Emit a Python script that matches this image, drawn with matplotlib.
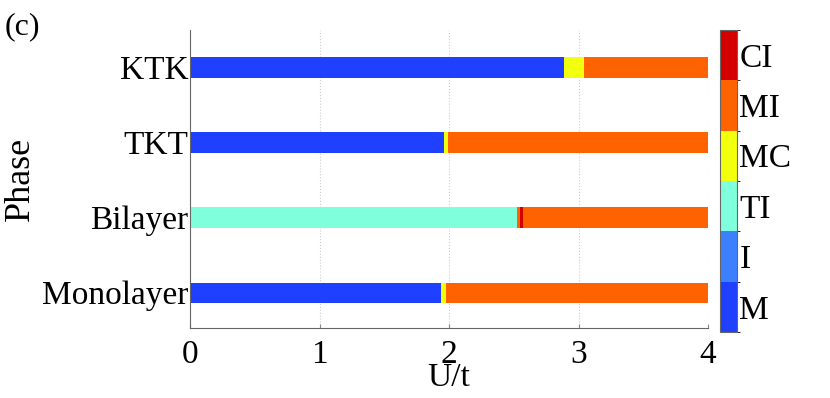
import matplotlib
matplotlib.use("Agg")
import matplotlib.pyplot as plt
from matplotlib.colors import ListedColormap, BoundaryNorm
from matplotlib.colorbar import ColorbarBase

plt.rcParams['font.family'] = ['Liberation Serif', 'DejaVu Serif']
plt.rcParams['mathtext.fontset'] = 'stix'

# phases and their colours (bottom to top of the colorbar)
phases = ["M", "I", "TI", "MC", "MI", "CI"]
phase_colors = ["#2040FF", "#3C80FF", "#80FFDC", "#F2FF0D", "#FF6200", "#D40000"]

# rows from bottom to top
systems = ["Monolayer", "Bilayer", "TKT", "KTK"]

# phase segments of each row: boundaries in U/t and the phase in between
mono_edges = [0, 1.935, 1.975, 4.0]
mono_phase = ["M", "MC", "MI"]
bi_edges = [0, 2.525, 2.55, 2.57, 4.0]
bi_phase = ["TI", "MI", "CI", "MI"]
tkt_edges = [0, 1.965, 1.99, 4.0]
tkt_phase = ["M", "MC", "MI"]
ktk_edges = [0, 2.89, 3.04, 4.0]
ktk_phase = ["M", "MC", "MI"]

rows = [(mono_edges, mono_phase), (bi_edges, bi_phase),
        (tkt_edges, tkt_phase), (ktk_edges, ktk_phase)]

color_of = dict(zip(phases, phase_colors))

fig = plt.figure(figsize=(8.3, 3.98), dpi=100)
ax = fig.add_axes([0.229, 0.176, 0.624, 0.749])

for i, (edges, labs) in enumerate(rows):
    y = i + 1
    for a, b, p in zip(edges[:-1], edges[1:], labs):
        ax.barh(y, b - a, left=a, height=0.27, color=color_of[p], linewidth=0)

ax.set_xlim(0, 4)
ax.set_ylim(0.53, 4.5)
ax.set_xticks([0, 1, 2, 3, 4])
ax.set_yticks(range(1, len(systems) + 1))
ax.set_yticklabels(systems)
ax.tick_params(axis='both', labelsize=24, direction='in', length=3, color='#888888')
ax.tick_params(axis='y', length=0, pad=1)
ax.tick_params(axis='x', pad=8)
ax.grid(axis='x', linestyle=':', color='#cccccc', linewidth=0.8)
ax.set_axisbelow(True)
for s in ['top', 'right']:
    ax.spines[s].set_visible(False)
for s in ['left', 'bottom']:
    ax.spines[s].set_color('#666666')
    ax.spines[s].set_linewidth(0.8)

ax.set_xlabel("U/t", fontsize=24, labelpad=-5)
ax.set_ylabel("Phase", fontsize=26, labelpad=4)

# discrete colorbar
cax = fig.add_axes([0.867, 0.166, 0.0205, 0.759])
cmap = ListedColormap(phase_colors)
norm = BoundaryNorm(range(len(phases) + 1), cmap.N)
cb = ColorbarBase(cax, cmap=cmap, norm=norm, orientation='vertical')
cb.set_ticks([k + 0.5 for k in range(len(phases))])
cb.set_ticklabels(phases)
cb.ax.tick_params(length=0, labelsize=24, pad=2)
cb.outline.set_edgecolor('#666666')
cb.outline.set_linewidth(0.8)

fig.text(0.005, 0.915, "(c)", fontsize=23)

fig.savefig("out.png", dpi=100)
